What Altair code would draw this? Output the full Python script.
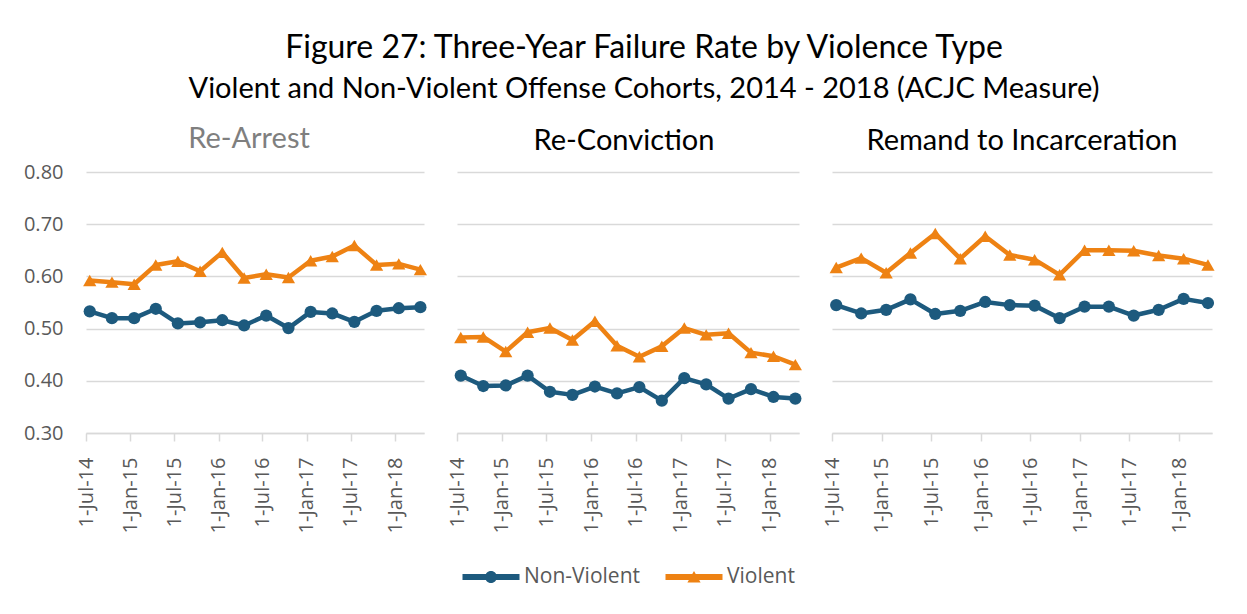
import altair as alt
import pandas as pd

# ---- data ----
quarters = ["2014-07-01", "2014-10-01", "2015-01-01", "2015-04-01", "2015-07-01", "2015-10-01",
            "2016-01-01", "2016-04-01", "2016-07-01", "2016-10-01", "2017-01-01", "2017-04-01",
            "2017-07-01", "2017-10-01", "2018-01-01", "2018-04-01"]
tick_dates = ["2014-07-01", "2015-01-01", "2015-07-01", "2016-01-01",
              "2016-07-01", "2017-01-01", "2017-07-01", "2018-01-01"]
y_ticks = [0.30, 0.40, 0.50, 0.60, 0.70, 0.80]

panels = ["Re-Arrest", "Re-Conviction", "Remand to Incarceration"]
series = ["Non-Violent", "Violent"]
colors = ["#1D5A7E", "#EE8213"]

rearrest_nonviolent = [0.533, 0.520, 0.520, 0.538, 0.510, 0.512, 0.516, 0.506,
                       0.525, 0.501, 0.532, 0.529, 0.513, 0.534, 0.539, 0.541]
rearrest_violent = [0.592, 0.589, 0.585, 0.622, 0.629, 0.610, 0.646, 0.597,
                    0.604, 0.598, 0.630, 0.638, 0.659, 0.622, 0.624, 0.613]
reconviction_nonviolent = [0.410, 0.390, 0.391, 0.410, 0.379, 0.373, 0.389, 0.376,
                           0.388, 0.362, 0.405, 0.393, 0.366, 0.384, 0.369, 0.366]
reconviction_violent = [0.483, 0.484, 0.456, 0.493, 0.501, 0.478, 0.514, 0.467,
                        0.446, 0.466, 0.501, 0.488, 0.491, 0.454, 0.447, 0.431]
remand_nonviolent = [0.545, 0.529, 0.536, 0.556, 0.528, 0.534, 0.551, 0.545,
                     0.544, 0.520, 0.542, 0.542, 0.525, 0.536, 0.557, 0.549]
remand_violent = [0.617, 0.635, 0.607, 0.645, 0.682, 0.634, 0.677, 0.641,
                  0.632, 0.603, 0.650, 0.650, 0.649, 0.640, 0.634, 0.622]

values = {
    ("Re-Arrest", "Non-Violent"): rearrest_nonviolent,
    ("Re-Arrest", "Violent"): rearrest_violent,
    ("Re-Conviction", "Non-Violent"): reconviction_nonviolent,
    ("Re-Conviction", "Violent"): reconviction_violent,
    ("Remand to Incarceration", "Non-Violent"): remand_nonviolent,
    ("Remand to Incarceration", "Violent"): remand_violent,
}

rows = []
for (p, s), vals in values.items():
    for d, v in zip(quarters, vals):
        rows.append({"panel": p, "series": s, "date": d + "T00:00:00", "value": v})
df = pd.DataFrame(rows)

GRID = "#D9D9D9"
LABEL = "#595959"
FONT = "Open Sans"
TFONT = "Lato"

def dt(s):
    y, m, d = s.split("-")
    return alt.DateTime(year=int(y), month=int(m), date=int(d))

# legend symbols: a line with the series marker in the middle
circle_path = ("M-0.95,-0.1 L0.95,-0.1 L0.95,0.1 L-0.95,0.1 Z "
               "M0.2,0 A0.2,0.2 0 1,1 -0.2,0 A0.2,0.2 0 1,1 0.2,0 Z")
tri_path = ("M-0.95,-0.1 L0.95,-0.1 L0.95,0.1 L-0.95,0.1 Z "
            "M0,-0.2 L0.22,0.18 L-0.22,0.18 Z")

legend = alt.Legend(
    title=None, orient="none", direction="horizontal", legendX=375, legendY=375,
    labelFont=FONT, labelFontSize=21, labelColor=LABEL, symbolSize=3600,
    labelOffset=3, columnPadding=24, symbolStrokeWidth=0, symbolOpacity=1,
)

def panel(name, width, show_labels, title_color, title_dx, title_offset):
    base = alt.Chart(df).transform_filter(alt.datum.panel == name)
    x = alt.X("date:T", timeUnit="yearmonth", bandPosition=0.5, title=None,
              scale=alt.Scale(domain=[dt("2014-07-01"), dt("2018-05-01")]),
              axis=alt.Axis(values=[dt(t) for t in tick_dates], format="%-d-%b-%y",
                            labelAngle=-90, labelFont=FONT, labelFontSize=20,
                            labelColor=LABEL, labelPadding=16, tickSize=8,
                            tickColor=GRID, tickWidth=1.5, domainColor=GRID,
                            domainWidth=1.5, grid=False))
    y = alt.Y("value:Q", title=None,
              scale=alt.Scale(domain=[0.3, 0.8], nice=False, zero=False),
              axis=alt.Axis(values=y_ticks, format=".2f", labels=show_labels,
                            labelFont=FONT, labelFontSize=20, labelColor=LABEL,
                            labelPadding=23, ticks=False, domain=False,
                            grid=True, gridColor=GRID, gridWidth=1.5))
    layers = []
    for s, c in zip(series, colors):
        layers.append(base.transform_filter(alt.datum.series == s).mark_line(
            strokeWidth=4.5, strokeJoin="round", strokeCap="round", color=c).encode(x=x, y=y))
    layers.append(base.transform_filter(alt.datum.series == series[0]).mark_point(
        filled=True, opacity=1, size=150, shape="circle", color=colors[0]).encode(x=x, y=y))
    layers.append(base.transform_filter(alt.datum.series == series[1]).mark_point(
        filled=True, opacity=1, size=175, shape="triangle-up", color=colors[1]).encode(x=x, y=y))
    # legend-only layer (no rows): carries the merged colour/shape legend
    key = base.transform_filter("false").mark_point(filled=True, size=3600).encode(
        x=x, y=y,
        color=alt.Color("series:N", scale=alt.Scale(domain=series, range=colors), legend=legend),
        shape=alt.Shape("series:N", scale=alt.Scale(domain=series, range=[circle_path, tri_path]),
                        legend=legend),
    )
    layers.append(key)
    return alt.layer(*layers).properties(
        width=width, height=261,
        title=alt.TitleParams(name, font=TFONT, fontSize=29, fontWeight="normal",
                              color=title_color, anchor="middle", frame="group",
                              offset=title_offset, dx=title_dx),
    )

p1 = panel("Re-Arrest", 338, True, "#7F7F7F", -6, 8)
p2 = panel("Re-Conviction", 342, False, "#000000", -4, 16)
p3 = panel("Remand to Incarceration", 380, False, "#000000", 0, 16)

chart = alt.hconcat(p1, p2, p3, spacing=20).properties(
    title=alt.TitleParams(
        "Figure 27: Three-Year Failure Rate by Violence Type",
        subtitle="Violent and Non-Violent Offense Cohorts, 2014 - 2018 (ACJC Measure)",
        font=TFONT, fontSize=32, fontWeight="normal", color="#000000",
        subtitleFont=TFONT, subtitleFontSize=29, subtitleColor="#000000",
        subtitlePadding=10, anchor="middle", offset=20, dx=25,
    ),
    padding={"left": 15, "top": 24, "right": 5, "bottom": 5},
    background="white",
).configure_view(stroke="transparent", strokeWidth=0)

chart.save("out.html", embed_options={"renderer": "svg", "actions": False})
